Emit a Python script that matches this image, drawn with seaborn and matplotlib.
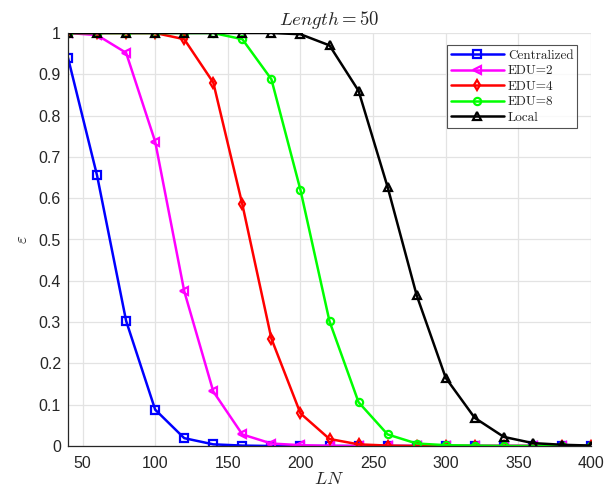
import matplotlib
matplotlib.use("Agg")
import matplotlib.pyplot as plt
import seaborn as sns
import pandas as pd

LN = [40, 60, 80, 100, 120, 140, 160, 180, 200, 220, 240, 260, 280, 300, 320, 340, 360, 380, 400]
centralized = [0.94, 0.655, 0.303, 0.088, 0.019, 0.004, 0.001, 0.0, 0.0, 0.0, 0.0, 0.0, 0.0, 0.0, 0.0, 0.0, 0.0, 0.0, 0.0]
edu2 = [1.0, 0.995, 0.952, 0.737, 0.375, 0.132, 0.028, 0.006, 0.002, 0.0005, 0.0, 0.0, 0.0, 0.0, 0.0, 0.0, 0.0, 0.0, 0.0]
edu4 = [1.0, 1.0, 1.0, 1.0, 0.985, 0.88, 0.585, 0.26, 0.079, 0.017, 0.004, 0.001, 0.0, 0.0, 0.0, 0.0, 0.0, 0.0, 0.0]
edu8 = [1.0, 1.0, 1.0, 1.0, 1.0, 1.0, 0.985, 0.888, 0.62, 0.302, 0.106, 0.028, 0.006, 0.002, 0.001, 0.0, 0.0, 0.0, 0.0]
local = [1.0, 1.0, 1.0, 1.0, 1.0, 1.0, 1.0, 1.0, 0.997, 0.97, 0.86, 0.627, 0.365, 0.165, 0.068, 0.022, 0.007, 0.003, 0.001]

series_names = ["Centralized", "EDU=2", "EDU=4", "EDU=8", "Local"]
series_values = [centralized, edu2, edu4, edu8, local]
colors = ["#0000ff", "#ff00ff", "#ff0000", "#00ff00", "#000000"]
markers = ["s", "<", "d", "o", "^"]
xticks = [50, 100, 150, 200, 250, 300, 350, 400]
yticks = [0, 0.1, 0.2, 0.3, 0.4, 0.5, 0.6, 0.7, 0.8, 0.9, 1]
ytick_labels = ["0", "0.1", "0.2", "0.3", "0.4", "0.5", "0.6", "0.7", "0.8", "0.9", "1"]

sns.set_style("white")
plt.rcParams["font.family"] = ["Liberation Sans", "DejaVu Sans"]
plt.rcParams["mathtext.fontset"] = "cm"

fig = plt.figure(figsize=(6.08, 4.90), dpi=100)
ax = fig.add_axes([68 / 608, 44 / 490, (591 - 68) / 608, (446 - 33) / 490])

for name, vals, c, m in zip(series_names, series_values, colors, markers):
    df = pd.DataFrame({"LN": LN, "eps": vals})
    sns.lineplot(data=df, x="LN", y="eps", ax=ax, color=c, marker=m,
                 markersize=5.2, markerfacecolor="none", markeredgecolor=c,
                 markeredgewidth=1.6, linewidth=1.8, label=name)

ax.set_xlim(40, 400)
ax.set_ylim(0, 1)
ax.set_xticks(xticks)
ax.set_yticks(yticks)
ax.set_yticklabels(ytick_labels)
ax.grid(True, color="#e3e3e3", linewidth=0.9)
ax.set_axisbelow(True)
for s in ["top", "right"]:
    ax.spines[s].set_visible(False)
for s in ["left", "bottom"]:
    ax.spines[s].set_color("#262626")
    ax.spines[s].set_linewidth(0.9)
ax.tick_params(direction="in", length=4, width=0.8, colors="#262626",
               labelsize=11.5, labelcolor="#262626")
ax.tick_params(axis="x", pad=7)
ax.tick_params(axis="y", pad=5)
ax.set_xlabel(r"$LN$", fontsize=13, labelpad=0)
ax.set_ylabel(r"$\varepsilon$", fontsize=12, labelpad=6)
ax.set_title(r"$Length=50$", fontsize=13.5, pad=6)

leg = ax.legend(loc="upper right", bbox_to_anchor=(0.974, 0.97),
                prop={"family": "cmr10", "size": 9.5},
                frameon=True, fancybox=False, edgecolor="#262626",
                handlelength=4.0, handletextpad=0.3, borderpad=0.3,
                labelspacing=0.25, borderaxespad=0)
leg.get_frame().set_linewidth(0.8)

fig.savefig("out.png", dpi=100)
